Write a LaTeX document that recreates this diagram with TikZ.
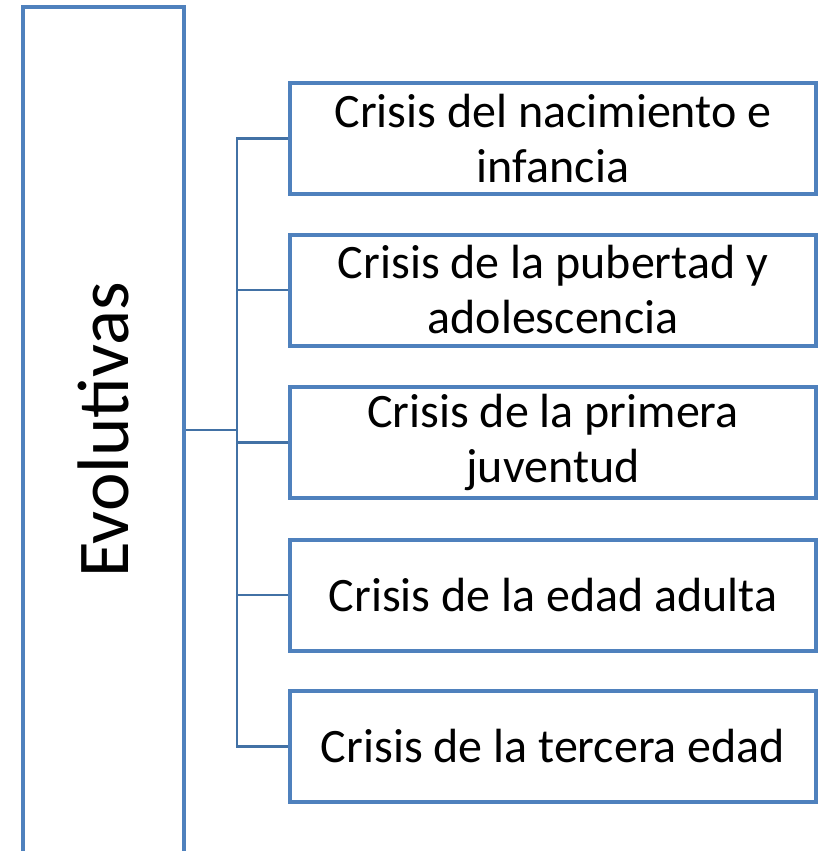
\documentclass[tikz,border=0pt]{standalone}
\usepackage{fontspec}
\setmainfont{Carlito}
\definecolor{boxblue}{RGB}{79,129,189}
\definecolor{linkblue}{RGB}{66,113,165}
\tikzset{
  crisisbox/.style={draw=boxblue, line width=4pt, fill=white, rectangle,
    minimum width=526pt, minimum height=111pt, inner sep=0pt, align=center,
    font=\fontsize{48}{55}\selectfont, text=black},
  mainbox/.style={draw=boxblue, line width=4pt, rectangle,
    minimum width=161pt, minimum height=900pt, inner sep=0pt},
  mainlabel/.style={rotate=90, inner sep=0pt, font=\fontsize{73}{80}\selectfont, text=black},
  linkline/.style={draw=linkblue, line width=2.5pt}
}
\begin{document}
\begin{tikzpicture}[x=1pt, y=-1pt]
\useasboundingbox (0,0) rectangle (820,851);
\clip (0,0) rectangle (820,851);
\fill[white] (0,0) rectangle (820,851);
\node[mainbox] (evo) at (103.5,457) {};
\node[mainlabel] (evolbl) at (103.5,430) {Evolutivas};
\node[crisisbox] (b1) at (553,138.5) {Crisis del nacimiento e\\infancia};
\node[crisisbox] (b2) at (553,290) {Crisis de la pubertad y\\adolescencia};
\node[crisisbox] (b3) at (553,442.5) {Crisis de la primera\\juventud};
\node[crisisbox] (b4) at (553,595) {Crisis de la edad adulta};
\node[crisisbox] (b5) at (553,746.5) {Crisis de la tercera edad};
\coordinate (bus) at (237,430);
\draw[linkline] (evolbl -| evo.east) -- (bus);
\draw[linkline, line cap=rect] (bus |- b1.west) -- (bus |- b5.west);
\foreach \b in {b1,b2,b3,b4,b5}{
  \draw[linkline] (bus |- \b.west) -- (\b.west);
}
\end{tikzpicture}
\end{document}
